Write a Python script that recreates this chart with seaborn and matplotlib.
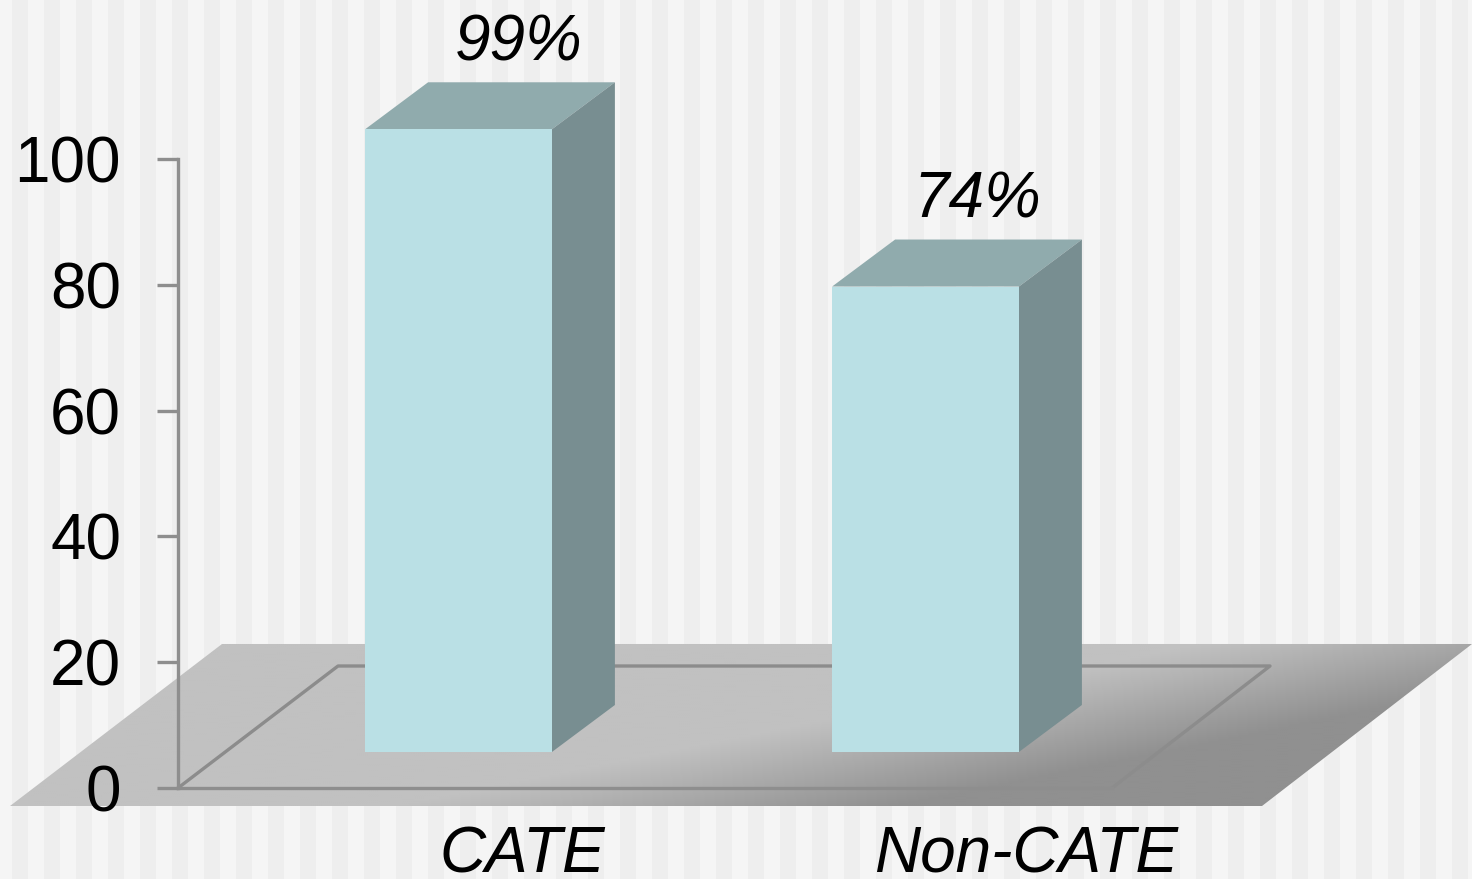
import numpy as np
import matplotlib
matplotlib.use("Agg")
import matplotlib.pyplot as plt
from matplotlib.patches import Polygon, Rectangle
import seaborn as sns

categories = ["CATE", "Non-CATE"]
values = [99, 74]
y_ticks = [0, 20, 40, 60, 80, 100]

W, H = 1472, 879
sns.set_theme(style="white")
plt.rcParams["font.family"] = ["Liberation Sans", "DejaVu Sans"]

fig = plt.figure(figsize=((W + 0.01) / 100, (H + 0.01) / 100), dpi=100)
fig.patch.set_facecolor("#F5F5F5")

# Backdrop layer in pixel coordinates: stripes and the gradient floor
bg = fig.add_axes([0, 0, 1, 1])
bg.set_xlim(0, W)
bg.set_ylim(H, 0)
bg.axis("off")
for x0 in range(12, W, 32):
    bg.add_patch(Rectangle((x0, 0), 16, H, fc="#EEEEEE", ec="none", zorder=0))

yy, xx = np.mgrid[640:810:2, 0:W:2]
level = np.clip((xx + 5 * (yy - 644) - 1200) / 500, 0, 1)
shade = 0.757 - level * (0.757 - 0.565)
img = bg.imshow(shade, extent=(0, W, 810, 640), cmap="gray", vmin=0, vmax=1,
                aspect="auto", interpolation="bilinear", zorder=1)
floor = Polygon([(10, 806), (222, 644), (1472, 644), (1262, 806)], closed=True,
                fc="none", ec="none", transform=bg.transData)
bg.add_patch(floor)
img.set_clip_path(floor)
bg.set_xlim(0, W)
bg.set_ylim(H, 0)
# back wall / floor frame
bg.plot([178, 338, 1270, 1112], [788, 666, 666, 788], color="#8C8C8C", lw=2.4, zorder=2)

# Main chart layer
PX_Y = 6.29            # pixels per value unit
PX_X = 467.0           # pixels per category step
X0, Y0 = 458.5, 788.0  # pixel position of category 0 and value 0
ax = fig.add_axes([0, 0, 1, 1], facecolor="none")
sns.barplot(x=categories, y=values, color="#BAE0E5", saturation=1, width=0.4,
            linewidth=0, ax=ax, zorder=4)
ax.set_xlim(-X0 / PX_X, (W - X0) / PX_X)
ax.set_ylim((Y0 - H) / PX_Y, Y0 / PX_Y)
ax.set_xlabel("")
ax.set_ylabel("")

FLOOR_LIFT = 36 / PX_Y
DX, DY = 63 / PX_X, 47 / PX_Y
label_shift_px = [60.5, 51.5]
for bar, v, shift in zip(ax.patches, values, label_shift_px):
    bar.set_y(FLOOR_LIFT)
    x, w = bar.get_x(), bar.get_width()
    top = FLOOR_LIFT + v
    ax.add_patch(Polygon([(x, top), (x + DX, top + DY), (x + w + DX, top + DY), (x + w, top)],
                         fc="#90ABAD", ec="none", zorder=3))
    ax.add_patch(Polygon([(x + w, top), (x + w + DX, top + DY),
                          (x + w + DX, FLOOR_LIFT + DY), (x + w, FLOOR_LIFT)],
                         fc="#788E91", ec="none", zorder=3))
    ax.annotate(f"{v}%", xy=(x + w / 2 + shift / PX_X, top + DY), xytext=(0, 6.6),
                textcoords="offset points", ha="center", va="bottom",
                fontsize=46, style="italic", color="black", zorder=6)

for name in ("top", "right"):
    ax.spines[name].set_visible(False)
axis_x = (178 - X0) / PX_X
ax.spines["left"].set_position(("data", axis_x))
ax.spines["left"].set_bounds(0, 100)
ax.spines["bottom"].set_position(("data", 0))
ax.spines["bottom"].set_bounds(axis_x, (1112 - X0) / PX_X)
for name in ("left", "bottom"):
    ax.spines[name].set_color("#8E8E8E")
    ax.spines[name].set_linewidth(2.4)
    ax.spines[name].set_zorder(2)

ax.set_yticks(y_ticks)
ax.tick_params(axis="y", length=15, width=2.4, color="#8E8E8E", pad=26,
               labelsize=46, labelcolor="black", left=True)
# Category labels sit under the floor, shifted right of their bars
ax.set_xticks([(522 - X0) / PX_X, (1026 - X0) / PX_X], categories)
ax.tick_params(axis="x", length=0, pad=27, labelsize=46, labelcolor="black")
for lab in ax.get_xticklabels():
    lab.set_style("italic")

fig.savefig("out.png", dpi=100, facecolor=fig.get_facecolor())
